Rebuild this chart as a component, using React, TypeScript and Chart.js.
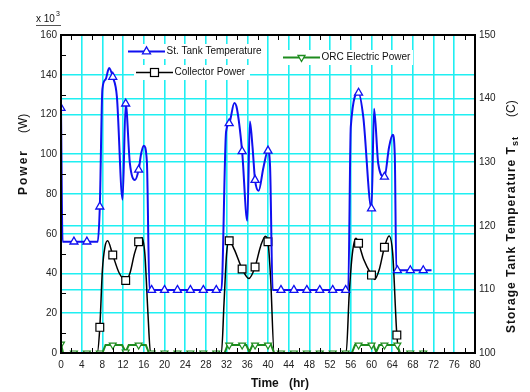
import React, { useEffect, useRef } from 'react';
import { Chart, registerables } from 'chart.js';

Chart.register(...registerables);

// ---- Data ----
// Storage tank temperature (°C, right axis)
const tempTime = [0, 0.3, 2.5, 5.0, 7.1, 7.5, 8.0, 8.6, 9.3, 10.0, 10.8, 11.9, 12.5, 13.3, 14.3, 15.0, 15.5, 16.0, 16.6, 17.1,
  17.5, 20, 22.5, 25, 27.5, 30, 31.0, 31.9, 32.5, 33.5, 34.0, 35.0, 36.0, 36.5, 37.0, 37.5, 38.2, 39.1, 40.0, 40.4, 40.9,
  42.5, 45, 47.5, 50, 52.5, 55, 55.5, 56.0, 57.5, 58.4, 60.0, 60.5, 61.3, 62.5, 63.4, 64.1, 64.5, 64.8, 65.0, 67.5, 70, 71.6];
const tempValue = [138.5, 117.5, 117.5, 117.5, 117.5, 123.0, 141.5, 143.0, 144.8, 143.4, 140.3, 124.1, 139.2, 129.9, 127.2, 128.8, 131.4, 132.6, 130.0, 109.9,
  109.9, 109.9, 109.9, 109.9, 109.9, 109.9, 109.9, 134.8, 136.1, 139.3, 138.4, 131.7, 120.8, 136.4, 132.5, 127.2, 125.5, 129.1, 131.8, 129.3, 109.9,
  109.9, 109.9, 109.9, 109.9, 109.9, 109.9, 109.9, 135.6, 140.9, 137.2, 122.7, 138.4, 129.8, 127.7, 132.4, 134.3, 131.1, 113.0, 113.0, 113.0, 113.0, 113.0];
const tempMarker = [1, 0, 1, 1, 0, 1, 0, 0, 0, 1, 0, 0, 1, 0, 0, 1, 0, 0, 0, 0,
  1, 1, 1, 1, 1, 1, 0, 0, 1, 0, 0, 1, 0, 0, 0, 1, 0, 0, 1, 0, 0,
  1, 1, 1, 1, 1, 1, 0, 0, 1, 0, 1, 0, 0, 1, 0, 0, 0, 0, 1, 1, 1, 0];

// Collector power (x10^3 W, left axis)
const collTime = [0, 7.0, 7.5, 8.0, 8.5, 9.0, 10.0, 11.2, 12.5, 13.3, 14.2, 15.0, 15.6, 16.2, 16.8, 17.3,
  31.0, 31.5, 32.0, 32.5, 33.5, 35.0, 36.3, 37.5, 38.6, 39.5, 40.0, 40.5, 41.2,
  55.1, 55.7, 56.3, 57.0, 57.5, 58.5, 60.0, 60.6, 61.5, 62.5, 63.4, 64.1, 64.9, 65.4, 71.6];
const collValue = [0, 0, 12.9, 41.8, 53.5, 56.5, 49.3, 40.5, 36.5, 40, 50, 56, 58, 50, 20, 0,
  0, 25, 50, 56.5, 52, 42.3, 37.5, 43.3, 54, 58.8, 56, 38, 0,
  0, 30, 50, 57.7, 55.2, 47, 39.2, 37, 42, 53.2, 58.9, 50, 9, 0, 0];
const collMarker = [0, 0, 1, 0, 0, 0, 1, 0, 1, 0, 0, 1, 0, 0, 0, 0,
  0, 0, 0, 1, 0, 1, 0, 1, 0, 0, 1, 0, 0,
  0, 0, 0, 0, 1, 0, 1, 0, 0, 1, 0, 0, 1, 0, 0];

// ORC electric power (x10^3 W, left axis)
const orcTime = [0, 0.4, 2.5, 5, 7.5, 8.0, 8.6, 10, 11.8, 12.5, 13.1, 15, 16.4, 17.0,
  17.5, 20, 22.5, 25, 27.5, 30, 31.6, 32.2, 32.5, 35, 35.8, 36.4, 37.0, 37.5, 40, 40.6, 41.2,
  42.5, 45, 47.5, 50, 52.5, 55, 56.2, 56.8, 57.5, 60, 60.4, 60.9, 61.5, 62.5, 65, 65.5, 67.5, 70, 71.6];
const orcValue = [4.5, 0, 0, 0, 0, 0, 4, 4, 4, 0.5, 4, 4, 4, 0,
  0, 0, 0, 0, 0, 0, 0, 4, 4, 4, 4, 0.5, 4, 4, 4, 4, 0,
  0, 0, 0, 0, 0, 0, 0, 4, 4, 4, 4, 0.5, 4, 4, 4, 0, 0, 0, 0];
const orcMarker = [1, 0, 1, 1, 1, 0, 0, 1, 0, 1, 0, 1, 0, 0,
  1, 1, 1, 1, 1, 1, 0, 0, 1, 1, 0, 0, 0, 1, 1, 0, 0,
  1, 1, 1, 1, 1, 1, 0, 0, 1, 1, 0, 0, 0, 1, 1, 0, 1, 1, 0];

const seriesNames = ['St. Tank Temperature', 'Collector Power', 'ORC Electric Power'];

const FONT = '"Liberation Sans", Arial, Helvetica, sans-serif';
const GRID = '#1FEFF2';
const BLUE = '#1010F0';
const GREEN = '#1E8C1E';

function pts(t: number[], v: number[]) {
  return t.map((x, i) => ({ x, y: v[i] }));
}

function drawTri(ctx: CanvasRenderingContext2D, x: number, y: number, r: number, down: boolean, color: string) {
  const s = down ? -1 : 1;
  ctx.beginPath();
  ctx.moveTo(x, y - s * r);
  ctx.lineTo(x - r * 0.866, y + s * r * 0.5);
  ctx.lineTo(x + r * 0.866, y + s * r * 0.5);
  ctx.closePath();
  ctx.fillStyle = '#fff';
  ctx.fill();
  ctx.strokeStyle = color;
  ctx.lineWidth = 1.3;
  ctx.stroke();
}

const extras = {
  id: 'extras',
  afterDatasetsDraw(chart: any) {
    const ctx: CanvasRenderingContext2D = chart.ctx;
    ctx.save();
    ctx.font = `10px ${FONT}`;
    ctx.textBaseline = 'middle';
    const items = [
      { name: seriesNames[0], x0: 128, x1: 165, y: 51.5, color: BLUE, kind: 'tri', box: [126, 44, 140, 15] },
      { name: seriesNames[1], x0: 136, x1: 173, y: 72.5, color: '#000', kind: 'sq', box: [134, 65, 116, 15] },
      { name: seriesNames[2], x0: 283, x1: 320, y: 57.5, color: GREEN, kind: 'dtri', box: [281, 50, 132, 15] },
    ];
    for (const it of items) {
      ctx.fillStyle = '#fff';
      ctx.fillRect(it.box[0], it.box[1], it.box[2], it.box[3]);
      ctx.beginPath();
      ctx.moveTo(it.x0, it.y);
      ctx.lineTo(it.x1, it.y);
      ctx.strokeStyle = it.color;
      ctx.lineWidth = it.kind === 'sq' ? 1.5 : 2;
      ctx.stroke();
      const cx = (it.x0 + it.x1) / 2;
      if (it.kind === 'tri') drawTri(ctx, cx, it.y, 4.6, false, it.color);
      else if (it.kind === 'dtri') drawTri(ctx, cx, it.y, 4, true, it.color);
      else {
        ctx.fillStyle = '#fff';
        ctx.fillRect(cx - 4, it.y - 4, 8, 8);
        ctx.strokeStyle = '#000';
        ctx.lineWidth = 1.2;
        ctx.strokeRect(cx - 4, it.y - 4, 8, 8);
      }
      ctx.fillStyle = '#111';
      ctx.textAlign = 'left';
      ctx.fillText(it.name, it.x1 + 1.5, it.y);
    }
    ctx.restore();
  },
  afterDraw(chart: any) {
    const ctx: CanvasRenderingContext2D = chart.ctx;
    const a = chart.chartArea;
    const sx = chart.scales.x;
    const sy = chart.scales.y;
    ctx.save();
    ctx.strokeStyle = '#000';
    ctx.lineWidth = 1;
    ctx.beginPath();
    for (let t = 2; t < 80; t += 4) {
      const px = Math.round(sx.getPixelForValue(t)) + 0.5;
      ctx.moveTo(px, a.bottom);
      ctx.lineTo(px, a.bottom - 5);
      ctx.moveTo(px, a.top);
      ctx.lineTo(px, a.top + 5);
    }
    for (let v = 10; v < 160; v += 20) {
      const py = Math.round(sy.getPixelForValue(v)) + 0.5;
      ctx.moveTo(a.left, py);
      ctx.lineTo(a.left + 5, py);
    }
    ctx.stroke();
    ctx.lineWidth = 2;
    ctx.strokeRect(a.left, a.top, a.right - a.left, a.bottom - a.top);

    ctx.fillStyle = '#111';
    ctx.font = `10px ${FONT}`;
    ctx.textAlign = 'left';
    ctx.textBaseline = 'alphabetic';
    ctx.fillText('x 10', 36, 22);
    ctx.font = `7px ${FONT}`;
    ctx.fillText('3', 56, 16);
    ctx.beginPath();
    ctx.moveTo(36, 25.5);
    ctx.lineTo(61, 25.5);
    ctx.lineWidth = 1;
    ctx.strokeStyle = '#555';
    ctx.stroke();

    ctx.font = `bold 12px ${FONT}`;
    ctx.fillText('Time', 251, 387);
    ctx.fillText('(hr)', 289, 387);

    ctx.save();
    ctx.translate(27, 195);
    ctx.rotate(-Math.PI / 2);
    (ctx as any).letterSpacing = '2px';
    ctx.font = `bold 12px ${FONT}`;
    ctx.fillText('Power', 0, 0);
    (ctx as any).letterSpacing = '0px';
    ctx.font = `12px ${FONT}`;
    ctx.fillText('(W)', 62, 0);
    ctx.restore();

    ctx.save();
    ctx.translate(515, 333);
    ctx.rotate(-Math.PI / 2);
    ctx.font = `bold 12px ${FONT}`;
    (ctx as any).letterSpacing = '1px';
    const main = 'Storage Tank Temperature T';
    ctx.fillText(main, 0, 0);
    const w = ctx.measureText(main).width;
    ctx.font = `bold 9px ${FONT}`;
    ctx.fillText('st', w, 3);
    (ctx as any).letterSpacing = '0px';
    ctx.font = `12px ${FONT}`;
    ctx.fillText('(C)', 216, 0);
    ctx.restore();

    ctx.restore();
  },
};

export default function App() {
  const ref = useRef<HTMLCanvasElement | null>(null);
  useEffect(() => {
    document.body.style.margin = '0';
    const canvas = ref.current;
    if (!canvas) return;
    const markerFn = (flags: number[], r: number) => (c: any) => (flags[c.dataIndex] ? r : 0);
    const chart = new Chart(canvas, {
      type: 'line',
      data: {
        datasets: [
          {
            label: seriesNames[2],
            data: pts(orcTime, orcValue),
            yAxisID: 'y',
            borderColor: GREEN,
            borderWidth: 2,
            tension: 0,
            pointStyle: 'triangle',
            rotation: 180,
            pointRadius: markerFn(orcMarker, 4),
            pointBackgroundColor: '#fff',
            pointBorderColor: GREEN,
            pointBorderWidth: 1.2,
          },
          {
            label: seriesNames[0],
            data: pts(tempTime, tempValue),
            yAxisID: 'y1',
            borderColor: BLUE,
            borderWidth: 2,
            cubicInterpolationMode: 'monotone',
            pointStyle: 'triangle',
            pointRadius: markerFn(tempMarker, 4.6),
            pointBackgroundColor: '#fff',
            pointBorderColor: BLUE,
            pointBorderWidth: 1.3,
          },
          {
            label: seriesNames[1],
            data: pts(collTime, collValue),
            yAxisID: 'y',
            borderColor: '#000',
            borderWidth: 1.5,
            cubicInterpolationMode: 'monotone',
            pointStyle: 'rect',
            pointRadius: markerFn(collMarker, 5.5),
            pointBackgroundColor: '#fff',
            pointBorderColor: '#000',
            pointBorderWidth: 1.2,
          },
        ],
      },
      options: {
        animation: false,
        responsive: false,
        devicePixelRatio: 1,
        layout: { padding: { top: 35, left: 0, right: 0, bottom: 0 } },
        plugins: { legend: { display: false }, tooltip: { enabled: false } },
        scales: {
          x: {
            type: 'linear',
            min: 0,
            max: 80,
            border: { display: false },
            grid: { color: GRID, lineWidth: 1.6, drawTicks: false },
            ticks: { stepSize: 4, padding: 6, color: '#222', font: { family: FONT, size: 10 }, maxRotation: 0 },
            afterFit: (s: any) => { s.height = 39; },
          },
          y: {
            position: 'left',
            min: 0,
            max: 160,
            border: { display: false },
            grid: { color: GRID, lineWidth: 1.6, drawTicks: false },
            ticks: { stepSize: 20, padding: 4, color: '#222', font: { family: FONT, size: 10 } },
            afterFit: (s: any) => { s.width = 61; },
          },
          y1: {
            position: 'right',
            min: 100,
            max: 150,
            border: { display: false },
            grid: { color: GRID, lineWidth: 1.6, drawTicks: false, drawOnChartArea: true },
            ticks: { stepSize: 10, padding: 4, color: '#222', font: { family: FONT, size: 10 } },
            afterFit: (s: any) => { s.width = 55; },
          },
        },
      } as any,
      plugins: [extras],
    });
    return () => chart.destroy();
  }, []);
  return (
    <div style={{ width: 530, height: 392 }}>
      <canvas ref={ref} width={530} height={392} style={{ display: 'block' }} />
    </div>
  );
}
